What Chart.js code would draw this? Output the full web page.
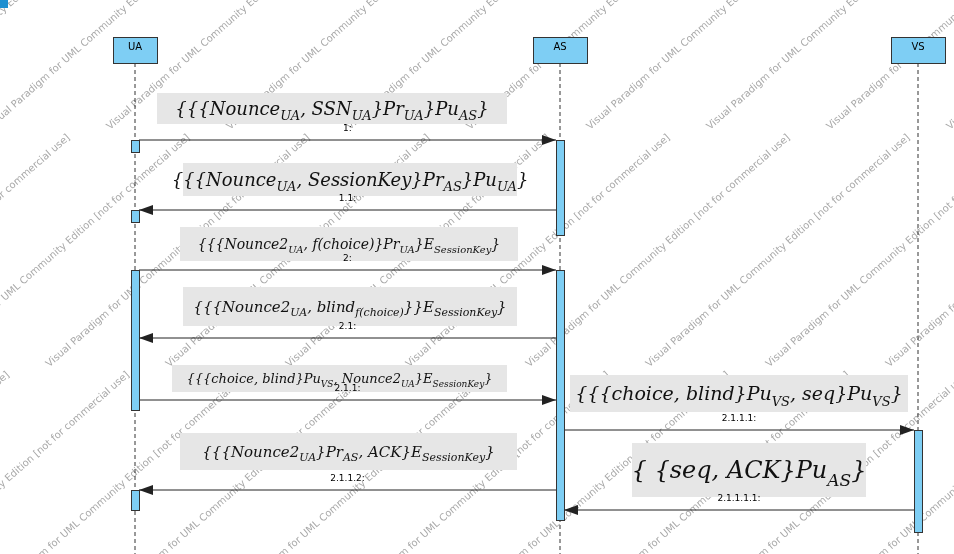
<!DOCTYPE html>
<html><head><meta charset="utf-8">
<script src="https://cdn.jsdelivr.net/npm/chart.js@4"></script>
<style>html,body{margin:0;background:#fff}</style>
</head><body>
<canvas id="c" width="954" height="554"></canvas>
<script>
// participants
const participants = ["UA", "AS", "VS"];
const lifelineX = [135, 560, 918];
// messages: number, from, to, y, formula
const msgNumbers = ["1:", "1.1:", "2:", "2.1:", "2.1.1:", "2.1.1.1:", "2.1.1.2:", "2.1.1.1.1:"];
const msgFrom = [0, 1, 0, 1, 0, 1, 1, 2];
const msgTo = [1, 0, 1, 0, 1, 2, 0, 1];
const msgY = [140, 210, 270, 338, 400, 430, 490, 510];
const formulas = [
  "{{{Nounce_{UA}, SSN_{UA}}Pr_{UA}}Pu_{AS}}",
  "{{{Nounce_{UA}, SessionKey}Pr_{AS}}Pu_{UA}}",
  "{{{Nounce2_{UA}, f(choice)}Pr_{UA}}E_{SessionKey}}",
  "{{{Nounce2_{UA}, blind_{f(choice)}}}E_{SessionKey}}",
  "{{{choice, blind}Pu_{VS}, Nounce2_{UA}}E_{SessionKey}}",
  "{{{choice, blind}Pu_{VS}, seq}Pu_{VS}}",
  "{{{Nounce2_{UA}}Pr_{AS}, ACK}E_{SessionKey}}",
  "{ {seq, ACK}Pu_{AS}}"
];
const formulaBox = [[157,93,507,124],[183,163,517,196],[180,227,518,261],[183,287,517,326],
  [172,365,507,392],[570,375,908,412],[180,433,517,470],[632,443,866,497]];
const formulaSize = [18,18,14,15,13,19,15,24];
// activations: lifeline index, yStart, yEnd
const actLine = [0,0,0,0,1,1,2];
const actStart = [140,210,270,490,140,270,430];
const actEnd = [152,222,410,510,235,520,532];

const datasets = [];
lifelineX.forEach(x => datasets.push({type:"line", data:[{x, y:63},{x, y:554}],
  borderColor:"#333", borderWidth:1, borderDash:[4,3], pointRadius:0}));
msgY.forEach((y,i) => {
  let x1 = lifelineX[msgFrom[i]], x2 = lifelineX[msgTo[i]];
  const d = x2 > x1 ? 1 : -1;
  x1 += d*4; x2 -= d*4;
  datasets.push({type:"line", data:[{x:x1,y},{x:x2,y}], borderColor:"#222", borderWidth:1, pointRadius:0, arrow:true});
});

function sx(ch,v){return ch.scales.x.getPixelForValue(v);}
function sy(ch,v){return ch.scales.y.getPixelForValue(v);}

function drawFormula(ctx, str, cx, cy, size){
  const parts=[]; let i=0, buf="";
  while(i<str.length){
    if(str[i]==="_" && str[i+1]==="{"){
      if(buf){parts.push([buf,false]);buf="";}
      let d=1,j=i+2,s="";
      while(j<str.length){ if(str[j]==="{")d++; if(str[j]==="}"){d--; if(d===0)break;} s+=str[j]; j++; }
      parts.push([s,true]); i=j+1;
    } else { buf+=str[i]; i++; }
  }
  if(buf)parts.push([buf,false]);
  const f=(sub)=>"italic "+(sub?Math.round(size*0.7):size)+"px 'DejaVu Serif'";
  let w=0; parts.forEach(p=>{ctx.font=f(p[1]); w+=ctx.measureText(p[0]).width;});
  let x=cx-w/2;
  ctx.fillStyle="#111"; ctx.textBaseline="alphabetic"; ctx.textAlign="left";
  parts.forEach(p=>{ctx.font=f(p[1]); ctx.fillText(p[0],x,cy+size*0.35+(p[1]?size*0.3:0)); x+=ctx.measureText(p[0]).width;});
}

const diagram = {
  id:"diagram",
  beforeDatasetsDraw(ch){
    const ctx=ch.ctx; ctx.save();
    // watermark
    ctx.fillStyle="#a8a8a8"; ctx.font="10px 'DejaVu Sans'";
    const wm="Visual Paradigm for UML Community Edition [not for commercial use]";
    for(let k=-4;k<10;k++){ for(let c=0;c<3;c++){
      ctx.save(); ctx.translate(-10+k*120+c*330, 130+c*-330+ 0 + (c*0)); 
      ctx.translate(0, c*330 + 0); ctx.translate(c*0, 0);
      ctx.rotate(-0.72);
      ctx.fillText(wm, -c*360, 0); ctx.restore(); } }
    // formula boxes
    formulaBox.forEach((b,i)=>{
      ctx.fillStyle="#e6e6e6";
      ctx.fillRect(sx(ch,b[0]),sy(ch,b[1]),sx(ch,b[2])-sx(ch,b[0]),sy(ch,b[3])-sy(ch,b[1]));
      drawFormula(ctx, formulas[i], (sx(ch,b[0])+sx(ch,b[2]))/2, (sy(ch,b[1])+sy(ch,b[3]))/2, formulaSize[i]);
    });
    ctx.restore();
  },
  afterDatasetsDraw(ch){
    const ctx=ch.ctx; ctx.save();
    ctx.fillStyle="#1f8fd0"; ctx.fillRect(0,0,8,8);
    participants.forEach((p,i)=>{
      const x=sx(ch,lifelineX[i]), w=i===0?44:54;
      ctx.fillStyle="#7ecef4"; ctx.strokeStyle="#333"; ctx.lineWidth=1;
      ctx.fillRect(x-w/2,37,w,26); ctx.strokeRect(x-w/2+0.5,37.5,w,26);
      ctx.fillStyle="#000"; ctx.font="10px 'DejaVu Sans'"; ctx.textAlign="center"; ctx.textBaseline="middle";
      ctx.fillText(p,x,47);
    });
    actLine.forEach((l,i)=>{
      const x=sx(ch,lifelineX[l]), y1=sy(ch,actStart[i]), y2=sy(ch,actEnd[i]);
      ctx.fillStyle="#7ecef4"; ctx.strokeStyle="#333";
      ctx.fillRect(x-4,y1,8,y2-y1); ctx.strokeRect(x-3.5,y1+0.5,8,y2-y1);
    });
    ch.data.datasets.forEach(ds=>{
      if(!ds.arrow)return;
      const a=ds.data[0], b=ds.data[1];
      const x2=sx(ch,b.x), y=sy(ch,b.y), dir=b.x>a.x?1:-1;
      ctx.fillStyle="#222"; ctx.beginPath();
      ctx.moveTo(x2,y); ctx.lineTo(x2-dir*14,y-5); ctx.lineTo(x2-dir*14,y+5); ctx.closePath(); ctx.fill();
    });
    msgY.forEach((y,i)=>{
      const xm=(sx(ch,lifelineX[msgFrom[i]])+sx(ch,lifelineX[msgTo[i]]))/2;
      ctx.fillStyle="#000"; ctx.font="9px 'DejaVu Sans'"; ctx.textAlign="center"; ctx.textBaseline="alphabetic";
      ctx.fillText(msgNumbers[i], xm, sy(ch,y)-9);
    });
    ctx.restore();
  }
};

new Chart(document.getElementById("c"), {
  type:"scatter",
  data:{datasets},
  options:{
    responsive:false, animation:false,
    layout:{padding:0},
    plugins:{legend:{display:false}, tooltip:{enabled:false}},
    scales:{
      x:{type:"linear", min:0, max:954, display:false},
      y:{type:"linear", min:0, max:554, reverse:true, display:false}
    }
  },
  plugins:[diagram]
});
</script>
</body></html>
